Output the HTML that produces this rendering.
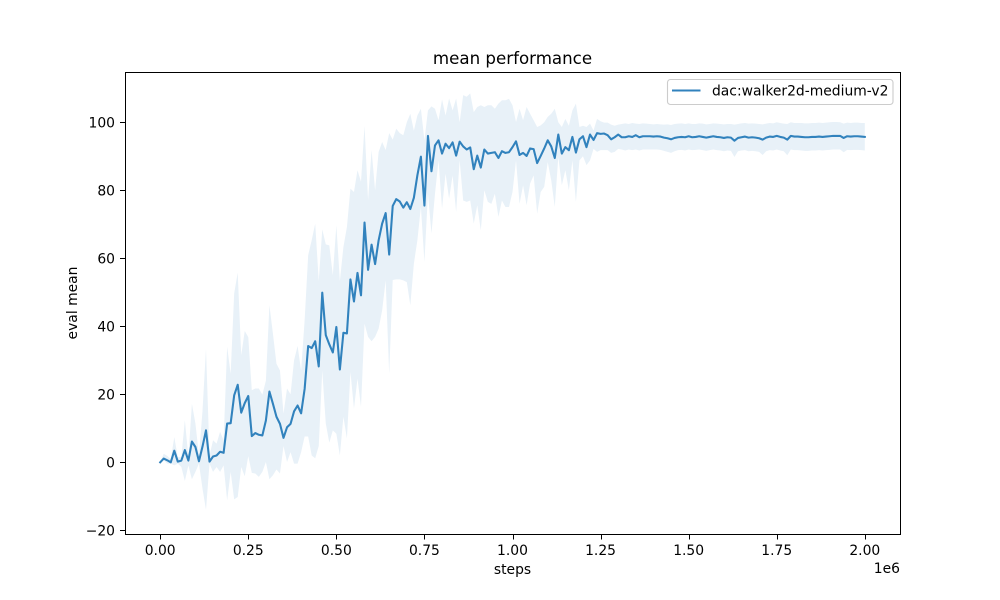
<!DOCTYPE html>
<html lang="en">
<head>
<meta charset="utf-8">
<title>mean performance</title>
<style>
html,body{margin:0;padding:0;background:#fff;}
svg{display:block;}
text{font-family:"DejaVu Sans","Liberation Sans",sans-serif;font-size:13.89px;fill:#000;}
</style>
</head>
<body>
<svg id="chart" xmlns="http://www.w3.org/2000/svg" width="1000" height="600" viewBox="0 0 1000 600"></svg>
<script>
const seriesLabel = "dac:walker2d-medium-v2";
const stepInterval = 10000;
const xTickValues = [0, 250000, 500000, 750000, 1000000, 1250000, 1500000, 1750000, 2000000];
const xTickLabels = ["0.00", "0.25", "0.50", "0.75", "1.00", "1.25", "1.50", "1.75", "2.00"];
const yTickValues = [-20, 0, 20, 40, 60, 80, 100];
const yTickLabels = ["\u221220", "0", "20", "40", "60", "80", "100"];
const meanValues = [
0,1.1,0.6,0,3.4,0.2,0.5,3.6,0.5,6.1,
4.5,0.3,4.6,9.4,0.2,1.7,2,3.1,2.8,11.4,
11.5,19.7,22.8,14.6,17.4,19.5,7.7,8.6,8.1,7.9,
12.3,20.8,17.2,13.4,11.3,7.2,10.3,11.3,15,16.7,
14.4,21.6,34.2,33.6,35.6,28.2,49.9,37.4,34.7,32.3,
39.8,27.3,38.1,37.9,53.8,47.3,55.7,49.1,70.5,56.6,
64,58.3,65.3,70.2,73.3,61.1,75.4,77.4,76.7,74.9,
76.5,74.5,77.8,84.4,89.9,75.5,96,85.6,93.2,94.7,
90.8,93.7,92.4,94.1,90.2,94.3,92.9,92,92.6,86.2,
90.2,86.7,92,90.8,91,91.2,89.5,91.5,91,91.2,
92.7,94.4,90.4,91,90.1,92.3,92.1,88,90.1,92.3,
94.7,92.9,89.5,96.4,90.8,92.7,91.8,95.7,91.1,95,
95.9,92.7,96.4,94.8,96.8,96.6,96.7,96.2,95,95.6,
96.4,95.6,95.6,95.9,95.7,96.2,95.6,95.9,95.9,95.9,
95.8,95.9,95.8,95.5,95.3,95,95.4,95.6,95.7,95.6,
95.9,95.6,95.7,95.9,95.7,95.5,95.7,95.9,95.7,95.6,
95.4,95.6,95.5,94.6,95.4,95.6,95.8,95.5,95.6,95.5,
95.3,94.9,95.5,95.8,95.7,96,95.7,95.5,94.9,96,
95.8,95.8,95.7,95.6,95.6,95.7,95.7,95.8,95.7,95.8,
95.9,96,96,96,95.4,95.9,95.8,95.9,95.9,95.8,95.7
];
const upperValues = [
0,2.5,1.9,0.9,7.4,1.5,1.5,12.4,1.5,17.2,
11.4,2,15,33.4,2,6.5,5.5,9,6.5,34,
26,49.7,55.8,31.5,38.6,36.8,21.2,21.7,21.7,19.9,
24,46.2,37.8,29,27,14.3,21.7,20,30,34.2,
27,41.8,60.9,65.3,70.2,53.3,68.5,64.1,63.8,55,
69.7,53.3,63.3,69.2,80.5,79.5,85.9,82.5,99,77.1,
91.8,80,91.3,94.2,91.8,96.8,94.9,98.1,96.8,96.2,
100,102.5,97.5,102,104,94.7,103.5,104.7,104,100.6,
106.7,102,107,103.5,107,100,108,107.5,108.5,103,
104.5,105,104.5,105,105,104,105.5,106.5,106.5,106.9,
105,100.1,104,100.6,104.5,102.5,100.6,98.6,99.1,100,
101.6,102.5,104,100,98.6,101,99,103.5,105.5,98.6,
99,98.6,99.6,97.6,101,100.3,99.9,99.9,99.3,99,
99.3,99.5,99.7,99.5,99.8,99.6,99.5,99.7,99.6,99.5,
99.4,99.5,99.4,99.3,99.4,99.2,99.5,99.6,99.7,99.5,
99.7,99.5,99.5,99.7,99.6,99.4,99.5,99.7,99.6,99.5,
99.4,99.5,99.5,99.3,99.5,99.7,99.8,99.6,99.7,99.6,
99.5,99.4,99.6,99.8,99.7,100,99.8,99.6,99.5,100,
99.8,99.8,99.8,99.7,99.7,99.8,99.8,99.9,99.8,99.9,
100,100.1,100.1,100,99.6,99.9,99.8,99.9,99.9,99.8,99.8
];
const lowerValues = [
0,0.6,-0.4,-0.4,-0.9,-0.4,-1.4,-5.5,-0.9,-5,
-2.8,-0.4,-7.7,-14,-0.4,-2.8,-1.4,-2.8,-0.9,-11.2,
-2.8,-10.9,-10.2,-1.4,-4.1,1.8,-3.1,-3.3,-4.3,-2.8,
0.1,-5,-3.8,-2.1,-3.3,4.8,0.1,3,-0.4,-0.4,
3,7.6,7.6,2,1.2,4.8,27,11.4,5.8,9.4,
8.4,2,13.4,7,26.6,15.8,24.6,16.3,40.8,36.9,
35.6,36.9,39.3,44.7,53.5,26,53.6,53.8,53.8,53.5,
53,46.2,58.4,65.3,75.1,58.9,79,67.3,79,88.8,
74.6,84.9,77.5,84.4,73.6,88.8,77,76.6,77,70.2,
75.6,68.2,80,76.6,76,79,72.2,77,75.1,75.1,
79.5,88.8,76,81.5,75.6,82,84.4,73.1,79.5,81,
88.3,82.9,75.1,89.8,81.5,85.9,80,88.8,76.6,88.8,
90,87.4,88.8,92.2,91.3,91.8,91.8,91.8,91,91.3,
92.2,92,91.7,92,91.8,92,91.7,92,92,92,
92,92,91.9,91.6,91.3,91,91.5,91.8,91.9,91.7,
92,91.8,91.9,92,91.8,91.6,91.8,92,91.8,91.7,
91.5,91.7,91.6,89.8,91.5,91.7,91.8,91.5,91.6,91.5,
91.3,90.4,91.5,91.8,91.7,92,91.7,91.5,90.3,92,
91.8,91.8,91.7,91.6,91.6,91.7,91.7,91.8,91.7,91.8,
91.9,92,92,92,91.2,91.9,91.8,91.9,91.9,91.8,91.7
];

const NS = "http://www.w3.org/2000/svg";
const svg = document.getElementById("chart");
const plotLeft = 125, plotRight = 900, plotTop = 72, plotBottom = 534;
const xScale = v => 160.2 + (v / 2000000) * 704.6;
const yScale = v => 462.3 - v * 3.4;

function make(tag, attrs, text) {
  const el = document.createElementNS(NS, tag);
  for (const k in attrs) el.setAttribute(k, attrs[k]);
  if (text !== undefined) el.textContent = text;
  svg.appendChild(el);
  return el;
}

const bandPoints = [];
upperValues.forEach((v, i) => bandPoints.push(xScale(i * stepInterval).toFixed(2) + "," + yScale(v).toFixed(2)));
for (let i = lowerValues.length - 1; i >= 0; i--) {
  bandPoints.push(xScale(i * stepInterval).toFixed(2) + "," + yScale(lowerValues[i]).toFixed(2));
}
const band = make("polygon", {points: bandPoints.join(" "), fill: "#e8f1f8", stroke: "none"});



const meanPoints = meanValues.map((v, i) => xScale(i * stepInterval).toFixed(2) + "," + yScale(v).toFixed(2));
const meanLine = make("polyline", {points: meanPoints.join(" "), fill: "none", stroke: "#3182bd", "stroke-width": 2.08, "stroke-linejoin": "round", "stroke-linecap": "square"});



const frame = make("rect", {x: plotLeft + 0.5, y: plotTop + 0.5, width: plotRight - plotLeft - 1 + 1, height: plotBottom - plotTop - 1 + 1, fill: "none", stroke: "#000", "stroke-width": 1.11, "shape-rendering": "crispEdges"});



xTickValues.forEach((v, i) => {
  const x = Math.round(xScale(v)) + 0.5;
  const tick = make("line", {x1: x, x2: x, y1: plotBottom, y2: plotBottom + 5.4, stroke: "#000", "stroke-width": 1.11, "shape-rendering": "crispEdges"});
  
  
  const label = make("text", {x: xScale(v), y: 555, "text-anchor": "middle"}, xTickLabels[i]);
  
  
});

yTickValues.forEach((v, i) => {
  const y = Math.round(yScale(v)) + 0.5;
  const tick = make("line", {x1: plotLeft - 4.9, x2: plotLeft, y1: y, y2: y, stroke: "#000", "stroke-width": 1.11, "shape-rendering": "crispEdges"});
  
  
  const label = make("text", {x: 115, y: yScale(v) + 5.1, "text-anchor": "end"}, yTickLabels[i]);
  
  
});

const title = make("text", {x: 512.5, y: 64, "text-anchor": "middle", style: "font-size:16.67px"}, "mean performance");



const xTitle = make("text", {x: 512.5, y: 574, "text-anchor": "middle"}, "steps");



const offsetText = make("text", {x: 900, y: 573, "text-anchor": "end"}, "1e6");



const yTitle = make("text", {x: 0, y: 0, "text-anchor": "middle", transform: "translate(77 303) rotate(-90)"}, "eval mean");



const legendBox = make("rect", {x: 667.5, y: 79.5, width: 225.5, height: 25, rx: 3, ry: 3, fill: "#fff", "fill-opacity": 0.8, stroke: "#cccccc", "stroke-width": 1.11});



const legendLine = make("line", {x1: 672, x2: 700.5, y1: 90.5, y2: 90.5, stroke: "#3182bd", "stroke-width": 2.08});



const legendText = make("text", {x: 712, y: 95.5}, seriesLabel);


</script>
</body>
</html>
